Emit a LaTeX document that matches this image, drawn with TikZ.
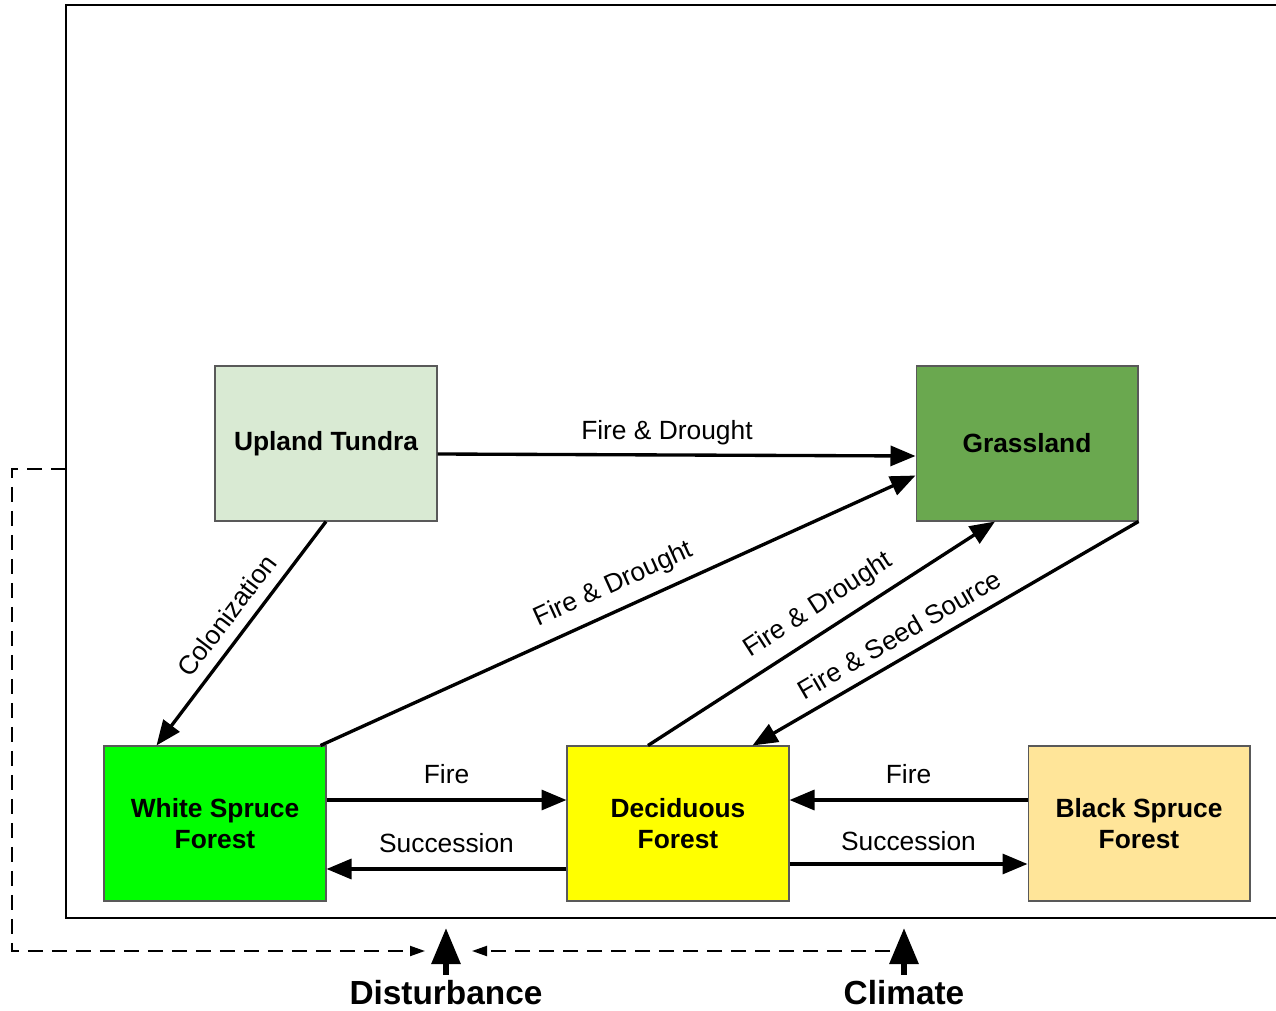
\documentclass[tikz,border=0pt]{standalone}
\usepackage{fontspec}
\setmainfont{Liberation Sans}
\usetikzlibrary{arrows.meta}
\definecolor{tundracol}{HTML}{D9EAD3}
\definecolor{grasscol}{HTML}{6AA84F}
\definecolor{whitecol}{HTML}{00FF00}
\definecolor{decidcol}{HTML}{FFFF00}
\definecolor{blackcol}{HTML}{FFE599}

\begin{document}
\begin{tikzpicture}
                     [x=0.02cm,y=-0.02cm,
                      every node/.style={font=\fontsize{15}{17.6}\selectfont},
                      state/.style={rectangle,draw=black!65,line width=0.6pt,minimum width=4.44cm,
                        minimum height=3.1cm,align=center,font=\bfseries\fontsize{15}{17.6}\selectfont},
                      trans/.style={line width=1.9pt,-{Triangle[length=0.5cm,width=0.4cm]}},
                      driver/.style={line width=3.4pt,-{Triangle[length=0.72cm,width=0.56cm]}},
                      link/.style={line width=1.1pt,dash pattern=on 0.3cm off 0.18cm,-{Triangle[length=0.3cm,width=0.2cm]}}]
                     \useasboundingbox (0,0) rectangle (1276,1011);
                     \node[state,fill=tundracol] (tundra) at (326,443.5) {Upland Tundra};
                     \node[state,fill=grasscol]  (grass)  at (1027,443.5) {Grassland};
                     \node[state,fill=whitecol]  (wspruce) at (215,823.5) {White Spruce\\Forest};
                     \node[state,fill=decidcol]  (decid)  at (678,823.5) {Deciduous\\Forest};
                     \node[state,fill=blackcol]  (bspruce) at (1139,823.5) {Black Spruce\\Forest};
                     \node[font=\bfseries\fontsize{19}{22}\selectfont] (dist) at (446,993) {Disturbance};
                     \node[font=\bfseries\fontsize{19}{22}\selectfont] (clim) at (904,993) {Climate};
                     \coordinate (dtip) at (446,928);
                     \coordinate (ctip) at (904,928);
                     \coordinate (fleft) at (66,469);
                     \coordinate (dend) at (425,951);
                     \coordinate (cstart) at (890,951);
                     \coordinate (cend) at (472,951);
                     % outer frame, open on the right
                     \draw[line width=1.5pt] (1280,5) -- (66,5) -- (66,918) -- (1280,918);
                     % feedback to disturbance
                     \draw[link] (fleft) -- (12,469) -- (12,951) -- (dend);
                     \draw[link] (cstart) -- (cend);
                     \draw[driver] (dist.north) -- (dtip);
                     \draw[driver] (clim.north) -- (ctip);
                     % transitions
                     \draw[trans] ([yshift=-0.21cm]tundra.east) -- node[above=1.5pt,pos=0.48] {Fire \& Drought}
                       ([yshift=-0.25cm]grass.west);
                     \draw[trans] (tundra.south) -- node[sloped,above=3pt,pos=0.48] {Colonization}
                       ([xshift=1.06cm]wspruce.north west);
                     \draw[trans] ([xshift=-0.12cm]wspruce.north east) -- node[sloped,above=3pt,pos=0.51] {Fire \& Drought}
                       ([yshift=0.92cm]grass.south west);
                     \draw[trans] ([xshift=-0.6cm]decid.north) -- node[sloped,above=3pt,pos=0.53] {Fire \& Drought}
                       ([xshift=-0.64cm]grass.south);
                     \draw[trans] (grass.south east) -- node[sloped,above=3pt,pos=0.59] {Fire \& Seed Source}
                       ([xshift=-0.74cm]decid.north east);
                     \draw[trans] ([yshift=0.47cm]wspruce.east) -- node[above=4.7pt] {Fire} ([yshift=0.47cm]decid.west);
                     \draw[trans] ([yshift=-0.91cm]decid.west) -- node[above=5pt] {Succession} ([yshift=-0.91cm]wspruce.east);
                     \draw[trans] ([yshift=0.47cm]bspruce.west) -- node[above=4.7pt] {Fire} ([yshift=0.47cm]decid.east);
                     \draw[trans] ([yshift=-0.81cm]decid.east) -- node[above=3pt] {Succession} ([yshift=-0.81cm]bspruce.west);
                   \end{tikzpicture}
\end{document}
